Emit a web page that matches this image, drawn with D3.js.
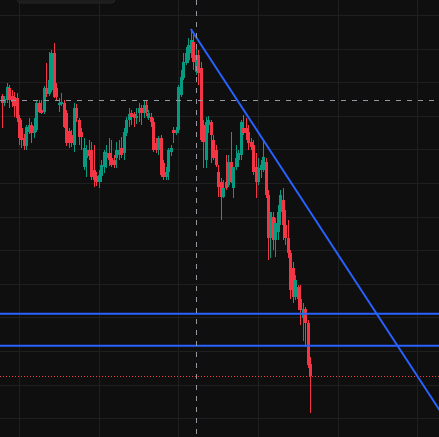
<!DOCTYPE html>
<html>
<head>
<meta charset="utf-8">
<script src="https://cdn.jsdelivr.net/npm/d3@7"></script>
<style>
  html, body { margin: 0; padding: 0; background: #0f0f0f; overflow: hidden; }
  svg { display: block; }
</style>
</head>
<body>
<script>
// OHLC values, one entry per bar (price units)
var open = [354, 347, 350, 362, 354, 353, 352, 332, 322, 312, 304, 318, 325, 317, 320, 347, 340, 338, 362, 356,
  360, 397, 362, 345, 346, 347, 337, 319, 315, 305, 342, 330, 318, 283, 292, 300, 300, 280, 274, 268,
  274, 283, 292, 297, 292, 290, 292, 295, 302, 297, 317, 330, 337, 336, 332, 337, 342, 337, 345, 332,
  333, 328, 307, 300, 312, 287, 273, 278, 298, 320, 317, 320, 355, 372, 387, 390, 397, 408, 378, 395,
  382, 325, 290, 325, 328, 310, 300, 278, 268, 253, 268, 265, 288, 262, 283, 290, 295, 322, 322, 318,
  308, 305, 283, 268, 280, 280, 288, 255, 212, 233, 210, 218, 238, 250, 225, 212, 197, 182, 153, 163,
  151, 132, 141, 127, 86];
var high = [356, 354, 367, 365, 360, 358, 357, 335, 330, 316, 325, 332, 328, 332, 350, 350, 350, 364, 387, 398,
  400, 407, 367, 352, 357, 350, 340, 322, 320, 347, 346, 332, 322, 312, 305, 310, 308, 305, 278, 280,
  290, 300, 305, 312, 310, 295, 308, 310, 313, 322, 333, 342, 340, 338, 342, 347, 345, 350, 349, 340,
  337, 332, 312, 314, 315, 290, 283, 302, 305, 323, 323, 365, 380, 397, 403, 412, 421, 415, 402, 400,
  388, 330, 333, 334, 330, 315, 305, 285, 272, 270, 295, 295, 318, 283, 305, 300, 330, 335, 332, 325,
  312, 310, 297, 292, 290, 310, 292, 260, 238, 238, 232, 245, 260, 262, 240, 230, 200, 188, 175, 165,
  165, 147, 143, 130, 93];
var low = [322, 344, 347, 342, 343, 333, 328, 305, 302, 300, 300, 316, 307, 312, 318, 337, 336, 336, 353, 354,
  358, 352, 350, 338, 344, 322, 304, 302, 303, 298, 328, 305, 300, 280, 273, 290, 270, 263, 264, 262,
  268, 277, 282, 284, 283, 282, 282, 290, 292, 290, 314, 323, 325, 323, 326, 328, 325, 332, 334, 330,
  323, 298, 297, 295, 273, 270, 270, 270, 294, 307, 315, 317, 353, 370, 385, 387, 392, 380, 375, 365,
  308, 282, 282, 317, 287, 290, 283, 253, 230, 252, 260, 263, 267, 252, 280, 283, 290, 315, 310, 300,
  300, 275, 252, 265, 272, 278, 252, 190, 192, 200, 193, 210, 225, 210, 205, 192, 151, 147, 150, 140,
  125, 109, 103, 82, 37];
var close = [347, 351, 363, 350, 348, 344, 332, 312, 310, 304, 323, 325, 317, 324, 347, 338, 337, 362, 356, 370,
  397, 353, 353, 347, 348, 323, 307, 307, 307, 342, 332, 313, 313, 302, 300, 294, 273, 270, 268, 275,
  285, 298, 297, 290, 285, 285, 300, 300, 295, 318, 330, 336, 333, 332, 334, 342, 337, 345, 338, 337,
  328, 300, 300, 312, 275, 273, 278, 300, 302, 317, 320, 363, 373, 388, 397, 405, 410, 388, 395, 377,
  310, 308, 328, 330, 315, 292, 285, 263, 253, 262, 262, 288, 268, 283, 292, 297, 328, 317, 317, 307,
  303, 278, 268, 282, 285, 293, 255, 212, 238, 210, 227, 238, 255, 225, 212, 197, 160, 153, 170, 151,
  140, 141, 127, 85, 74];

// grid lines (price levels and bar positions)
var gridPrices = [435, 401.4, 367.8, 334.2, 300.6, 267, 233.4, 199.8, 166.2, 132.6, 99, 65.4, 31.8];
var gridBars = [7, 39, 71, 103, 135, 167];

// drawings
var levelPrices = [136.3, 104.3];
var trendBars = [76, 176];
var trendPrices = [421, 39.5];
var lastPrice = 74;
var crossBar = 78;
var crossPrice = 350;

var width = 439, height = 437;

var svg = d3.select("body")
  .append("svg")
  .attr("width", width)
  .attr("height", height);

svg.append("rect")
  .attr("width", width)
  .attr("height", height)
  .attr("fill", "#0f0f0f");

var x = d3.scaleLinear().domain([7, 167]).range([19, 417.4]);
var y = d3.scaleLinear().domain([13, 450]).range([height, 0]);

// grid
var grid = svg.append("g").attr("stroke", "#1f1f1f").attr("stroke-width", 1);
grid.selectAll(".hgrid")
  .data(gridPrices)
  .enter().append("line")
  .attr("x1", 0).attr("x2", width)
  .attr("y1", d => Math.round(y(d)) + 0.5)
  .attr("y2", d => Math.round(y(d)) + 0.5);
grid.selectAll(".vgrid")
  .data(gridBars)
  .enter().append("line")
  .attr("y1", 0).attr("y2", height)
  .attr("x1", d => Math.round(x(d)) + 0.5)
  .attr("x2", d => Math.round(x(d)) + 0.5);

// last price line
svg.append("line")
  .attr("x1", 0).attr("x2", width)
  .attr("y1", Math.round(y(lastPrice)) + 0.5)
  .attr("y2", Math.round(y(lastPrice)) + 0.5)
  .attr("stroke", "#f23645")
  .attr("stroke-width", 1)
  .attr("stroke-dasharray", "1,2");

// candles
var bars = d3.range(open.length).map(function(i) {
  return { i: i, o: open[i], h: high[i], l: low[i], c: close[i] };
});
var color = d => d.c >= d.o ? "#089981" : "#f23645";

var candle = svg.append("g").selectAll("g")
  .data(bars)
  .enter().append("g");

candle.append("line")
  .attr("x1", d => Math.round(x(d.i)) + 0.5)
  .attr("x2", d => Math.round(x(d.i)) + 0.5)
  .attr("y1", d => y(d.h))
  .attr("y2", d => y(d.l))
  .attr("stroke", color)
  .attr("stroke-width", 1);

candle.append("rect")
  .attr("x", d => Math.round(x(d.i)) - 1)
  .attr("width", 3)
  .attr("y", d => y(Math.max(d.o, d.c)))
  .attr("height", d => Math.max(1, Math.abs(y(d.o) - y(d.c))))
  .attr("fill", color);

// horizontal levels
svg.selectAll(".level")
  .data(levelPrices)
  .enter().append("line")
  .attr("x1", 0).attr("x2", width)
  .attr("y1", d => y(d)).attr("y2", d => y(d))
  .attr("stroke", "#2962ff")
  .attr("stroke-width", 2);

// trend line
svg.append("line")
  .attr("x1", x(trendBars[0])).attr("y1", y(trendPrices[0]))
  .attr("x2", x(trendBars[1])).attr("y2", y(trendPrices[1]))
  .attr("stroke", "#2962ff")
  .attr("stroke-width", 2);

// crosshair
var cross = svg.append("g")
  .attr("stroke", "#9598a1")
  .attr("stroke-width", 1)
  .attr("stroke-dasharray", "5,6");
cross.append("line")
  .attr("x1", Math.round(x(crossBar)) + 0.5).attr("x2", Math.round(x(crossBar)) + 0.5)
  .attr("y1", 0).attr("y2", height);
cross.append("line")
  .attr("x1", 0).attr("x2", width)
  .attr("y1", Math.round(y(crossPrice)) + 0.5).attr("y2", Math.round(y(crossPrice)) + 0.5);

// legend panel cut off at the top
svg.append("rect")
  .attr("x", 17).attr("y", -12)
  .attr("width", 98).attr("height", 15)
  .attr("rx", 4)
  .attr("fill", "#1c1c1c")
  .attr("stroke", "#262626");
</script>
</body>
</html>
